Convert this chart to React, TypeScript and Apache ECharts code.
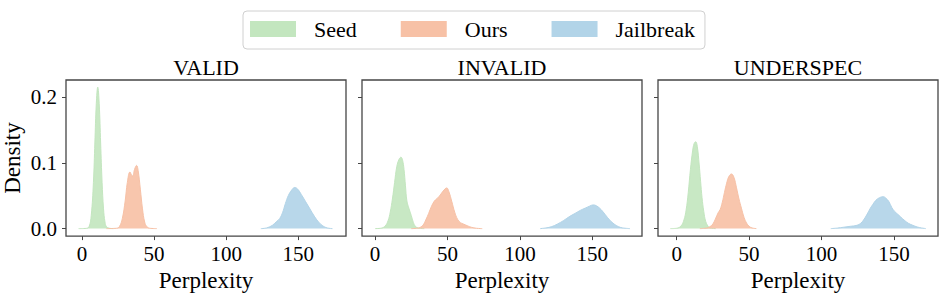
import React, { useEffect, useRef } from "react";
import * as echarts from "echarts";

// ---- data (x = perplexity, y = density) ----
const PANELS = ["VALID", "INVALID", "UNDERSPEC"];
const SERIES_NAMES = ["Seed", "Ours", "Jailbreak"];
const X_TICKS = [0, 50, 100, 150];
const Y_TICKS = [0, 0.1, 0.2];

const VALID_SEED: [number, number][] = [
  [-2.3, 0], [3, 0.0003], [5, 0.003], [6.5, 0.02], [8, 0.07], [9, 0.13], [10, 0.19], [11, 0.215],
  [12, 0.19], [13, 0.13], [14, 0.07], [15, 0.03], [16, 0.01], [17, 0.003], [19, 0.0005], [22, 0],
];
const VALID_OURS: [number, number][] = [
  [17, 0], [24, 0.0005], [26, 0.003], [28, 0.015], [30, 0.042], [31.5, 0.07], [33.3, 0.086], [34.5, 0.081],
  [35.2, 0.08], [36.5, 0.09], [37.9, 0.096], [39, 0.088], [40.5, 0.06], [42, 0.03], [43.5, 0.01],
  [45, 0.003], [47, 0.0005], [52, 0],
];
const VALID_JAIL: [number, number][] = [
  [124, 0], [128, 0.001], [132, 0.005], [135, 0.011], [137, 0.015], [139, 0.024], [141, 0.038],
  [143, 0.05], [145.5, 0.059], [147.5, 0.0625], [149.5, 0.06], [152, 0.052], [155, 0.041], [158, 0.03],
  [161, 0.019], [164, 0.01], [167, 0.004], [170, 0.001], [173.6, 0],
];

const INVALID_SEED: [number, number][] = [
  [0, 0], [4, 0.0005], [7, 0.004], [9, 0.012], [10.5, 0.025], [12, 0.045], [13.5, 0.07], [15, 0.094],
  [16.5, 0.105], [17.9, 0.1085], [19, 0.104], [20, 0.09], [21, 0.065], [22, 0.042], [23.5, 0.03],
  [25, 0.02], [26.5, 0.009], [28, 0.003], [30, 0.0008], [34, 0],
];
const INVALID_OURS: [number, number][] = [
  [25, 0], [30, 0.001], [33, 0.005], [35, 0.013], [37, 0.023], [39, 0.034], [41, 0.042], [43, 0.046],
  [45, 0.051], [47, 0.057], [49.5, 0.0618], [51, 0.056], [53, 0.041], [55, 0.025], [57, 0.014],
  [59, 0.009], [61, 0.007], [63.5, 0.0045], [66.5, 0.002], [70, 0.0005], [74, 0],
];
const INVALID_JAIL: [number, number][] = [
  [114, 0], [118, 0.001], [122, 0.003], [126, 0.007], [130, 0.012], [134, 0.018], [138, 0.023],
  [142, 0.028], [145, 0.031], [148, 0.034], [150.5, 0.036], [153, 0.0345], [156, 0.029], [159, 0.021],
  [162, 0.013], [165, 0.007], [168, 0.003], [171, 0.001], [176, 0],
];

const UNDER_SEED: [number, number][] = [
  [-4.4, 0], [0, 0.0005], [3, 0.004], [5, 0.013], [6.5, 0.028], [8, 0.055], [9.5, 0.09], [11, 0.118],
  [12, 0.129], [13.1, 0.132], [14.2, 0.125], [15.5, 0.098], [16.5, 0.072], [17.5, 0.047], [18.7, 0.026],
  [20, 0.011], [21.5, 0.004], [23, 0.001], [27, 0],
];
const UNDER_OURS: [number, number][] = [
  [16, 0], [21, 0.001], [23, 0.003], [25, 0.007], [27, 0.016], [28.6, 0.024], [30, 0.029], [31.5, 0.04],
  [33, 0.055], [34.5, 0.069], [36, 0.079], [37.8, 0.083], [39.5, 0.078], [41.3, 0.062], [43, 0.045],
  [44.7, 0.031], [46.5, 0.017], [48.2, 0.0085], [50, 0.0035], [52, 0.001], [55, 0],
];
const UNDER_JAIL: [number, number][] = [
  [106.4, 0], [111, 0.0008], [115, 0.002], [120, 0.0035], [124.5, 0.005], [127, 0.008], [129, 0.013],
  [131.5, 0.022], [133.7, 0.031], [135.5, 0.037], [137.5, 0.043], [140, 0.047], [142.6, 0.0485],
  [144.5, 0.046], [146.5, 0.041], [148.5, 0.032], [150.5, 0.026], [152.5, 0.022], [154.5, 0.018],
  [157, 0.013], [160, 0.008], [163, 0.005], [166, 0.0025], [169, 0.001], [172, 0],
];

const PANEL_DATA = [
  [VALID_SEED, VALID_OURS, VALID_JAIL],
  [INVALID_SEED, INVALID_OURS, INVALID_JAIL],
  [UNDER_SEED, UNDER_OURS, UNDER_JAIL],
];
const X_RANGES: [number, number][] = [[-11, 183], [-9, 184.3], [-12.9, 180.4]];
const Y_RANGE: [number, number] = [-0.0114, 0.2258];

// ---- styling ----
const COLORS = ["#c3e6bf", "#f7c1a6", "#b2d4e8"];
const FONT = '"Liberation Serif", "Times New Roman", serif';
const GRID_LEFTS = [66, 362, 658];
const GRID_TOP = 80;
const GRID_W = 280;
const GRID_H = 158;
const AXIS_COLOR = "#454545";

export default function App() {
  const ref = useRef<HTMLDivElement>(null);

  useEffect(() => {
    if (!ref.current) return;
    const chart = echarts.init(ref.current, undefined, { renderer: "svg" });

    const grid = GRID_LEFTS.map((l) => ({
      left: l, top: GRID_TOP, width: GRID_W, height: GRID_H,
      show: true, borderColor: AXIS_COLOR, borderWidth: 1.3, backgroundColor: "transparent",
    }));

    const xAxis = PANELS.map((_, i) => ({
      type: "value", gridIndex: i, min: X_RANGES[i][0], max: X_RANGES[i][1],
      name: "Perplexity", nameLocation: "middle", nameGap: 25,
      nameTextStyle: { fontFamily: FONT, fontSize: 23, color: "#000" },
      axisLine: { show: false, onZero: false },
      axisTick: { show: true, length: 4, lineStyle: { color: AXIS_COLOR }, customValues: X_TICKS },
      axisLabel: { customValues: X_TICKS, fontFamily: FONT, fontSize: 21, color: "#000", margin: 7 },
      splitLine: { show: false },
    }));

    const yAxis = PANELS.map((_, i) => ({
      type: "value", gridIndex: i, min: Y_RANGE[0], max: Y_RANGE[1],
      name: i === 0 ? "Density" : "", nameLocation: "middle", nameGap: 42,
      nameTextStyle: { fontFamily: FONT, fontSize: 23, color: "#000" },
      axisLine: { show: false, onZero: false },
      axisTick: { show: true, length: 4, lineStyle: { color: AXIS_COLOR }, customValues: Y_TICKS },
      axisLabel: {
        show: i === 0, customValues: Y_TICKS, fontFamily: FONT, fontSize: 21, color: "#000", margin: 9,
        formatter: (v: number) => v.toFixed(1),
      },
      splitLine: { show: false },
    }));

    const series: any[] = [];
    PANEL_DATA.forEach((panel, i) => {
      panel.forEach((data, k) => {
        series.push({
          type: "line", name: SERIES_NAMES[k], xAxisIndex: i, yAxisIndex: i, data,
          smooth: 0.4, showSymbol: false, symbol: "none",
          itemStyle: { color: COLORS[k] },
          lineStyle: { color: COLORS[k], width: 1 },
          areaStyle: { color: COLORS[k], opacity: 0.92, origin: 0 },
          emphasis: { disabled: true },
          z: 2 + k,
        });
      });
    });

    const graphic = PANELS.map((t, i) => ({
      type: "text", x: GRID_LEFTS[i] + GRID_W / 2, y: 67,
      style: { text: t, fontFamily: FONT, fontSize: 22, fill: "#000", align: "center", verticalAlign: "middle" },
    }));

    chart.setOption({
      animation: false,
      grid, xAxis, yAxis, series, graphic,
      legend: {
        left: 243, top: 11,
        data: SERIES_NAMES.map((n, k) => ({ name: n, itemStyle: { color: COLORS[k] } })),
        icon: "rect", itemWidth: 46, itemHeight: 16, itemGap: 44,
        padding: [7, 10, 9, 7],
        borderColor: "#d0d0d0", borderWidth: 1, borderRadius: 4,
        textStyle: { fontFamily: FONT, fontSize: 22, color: "#000", padding: [0, 0, 0, 13] },
        selectedMode: false,
      },
    });

    return () => chart.dispose();
  }, []);

  return (
    <div
      ref={ref}
      style={{ position: "fixed", left: 0, top: 0, width: 947, height: 297, background: "#fff" }}
    />
  );
}
